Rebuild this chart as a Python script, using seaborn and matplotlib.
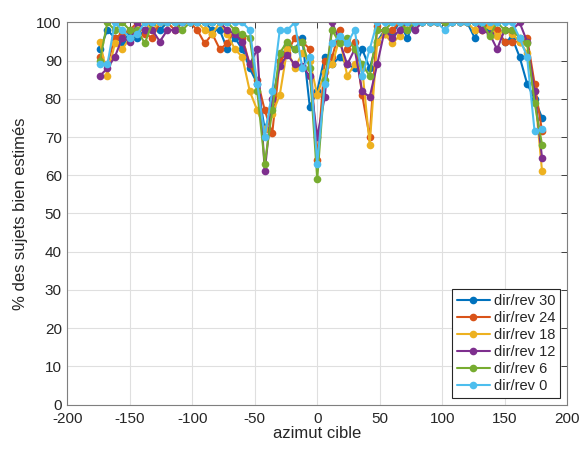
import numpy as np
import pandas as pd
import matplotlib
matplotlib.use("Agg")
import matplotlib.pyplot as plt
import seaborn as sns

# azimuts -174:6:180
azimut = list(range(-174, 181, 6))

dir_rev_30 = [93, 98, 96, 95, 97, 96, 98, 100, 98, 100,
              100, 100, 100, 100, 100, 98, 98, 93, 96, 93,
              88, 84, 72, 78, 90, 94, 93, 96, 78, 82,
              91, 89, 91, 89, 88, 93, 88, 95, 98, 97,
              100, 96, 100, 100, 100, 100, 100, 100, 100, 100,
              96, 100, 98, 98, 95, 96, 91, 84, 80, 75]
dir_rev_24 = [91, 89, 96, 97, 98, 100, 97, 96, 100, 100,
              98, 100, 100, 98, 94.5, 97, 93, 94.5, 98, 96,
              89, 85, 77, 71, 90, 92, 96, 95, 93, 64,
              90, 91, 98, 93, 95, 81, 70, 99, 97, 98,
              100, 100, 100, 100, 100, 100, 100, 100, 100, 100,
              100, 98, 100, 98, 95, 95, 95, 96, 84, 71.5]
dir_rev_18 = [95, 86, 94.5, 93, 96, 98, 100, 98, 100, 100,
              100, 100, 100, 100, 98, 97, 100, 97, 93, 91,
              82, 77, 72, 76, 81, 93, 88, 92, 90, 81,
              87, 89, 96, 86, 89, 88, 68, 95, 97, 94.5,
              96.5, 100, 100, 100, 100, 100, 100, 100, 100, 100,
              98, 98, 99, 96.5, 98, 97, 95, 92, 82, 61]
dir_rev_12 = [86, 88, 91, 96, 95, 100, 98, 98, 95, 98,
              98, 100, 100, 100, 100, 100, 100, 98, 97, 95,
              89, 93, 61, 80, 88.5, 91.5, 89, 88.5, 86, 70,
              80.5, 100, 95, 89, 93, 82, 80.5, 89, 98, 96,
              98, 100, 98, 100, 100, 100, 100, 100, 100, 100,
              100, 98, 97, 93, 98, 98, 100, 95, 82, 64.5]
dir_rev_6 = [90, 100, 98, 100, 98, 98, 94.5, 100, 100, 100,
             100, 98, 100, 100, 100, 100, 100, 100, 98, 97,
             96, 82, 63, 77, 92, 95, 93, 95, 88, 59,
             85, 98, 94.5, 96, 93, 89, 86, 98, 98, 100,
             100, 98, 100, 100, 100, 100, 100, 100, 100, 100,
             100, 100, 96.5, 100, 98, 98, 96, 94.5, 79, 68]
dir_rev_0 = [89, 89, 100, 98, 96, 97, 100, 100, 100, 100,
             100, 100, 100, 100, 100, 100, 100, 100, 100, 100,
             98, 84, 70, 82, 98, 98, 100, 88, 91, 63,
             84, 94.5, 96.5, 94.5, 98, 86, 93, 100, 100, 100,
             100, 100, 100, 100, 100, 100, 98, 100, 100, 100,
             100, 100, 100, 100, 100, 100, 96, 91, 71.5, 72]

labels = ["dir/rev 30", "dir/rev 24", "dir/rev 18", "dir/rev 12", "dir/rev 6", "dir/rev 0"]
series = [dir_rev_30, dir_rev_24, dir_rev_18, dir_rev_12, dir_rev_6, dir_rev_0]
couleurs = ["#0072BD", "#D95319", "#EDB120", "#7E2F8E", "#77AC30", "#4DBEEE"]

df = pd.concat(
    [pd.DataFrame({"azimut": azimut, "pct": s, "cond": lab}) for s, lab in zip(series, labels)],
    ignore_index=True,
)

sns.set_theme(style="whitegrid")
plt.rcParams["font.family"] = ["Liberation Sans", "DejaVu Sans"]
plt.rcParams["axes.unicode_minus"] = False

fig = plt.figure(figsize=(5.81, 4.49), dpi=100)
ax = fig.add_axes([0.116, 0.099, 0.860, 0.851])

sns.lineplot(
    data=df, x="azimut", y="pct", hue="cond", hue_order=labels,
    palette=couleurs, marker="o", markersize=5.5, markeredgewidth=0,
    linewidth=1.5, ax=ax, legend=True, errorbar=None, sort=False,
)

ax.set_xlim(-200, 200)
ax.set_ylim(0, 100)
ax.set_xticks(np.arange(-200, 201, 50))
ax.set_yticks(np.arange(0, 101, 10))
ax.set_xlabel("azimut cible", fontsize=12, color="#262626", labelpad=0)
ax.set_ylabel("% des sujets bien estimés", fontsize=12, color="#262626", labelpad=6)
ax.tick_params(axis="both", labelsize=11, direction="in", length=4, width=0.6,
               colors="#262626", top=True, right=True)
ax.tick_params(axis="x", pad=5.5)
ax.tick_params(axis="y", pad=4)
ax.set_facecolor("white")
ax.grid(True, color="#dfdfdf", linewidth=0.8)
for sp in ax.spines.values():
    sp.set_visible(True)
    sp.set_color("#7f7f7f")
    sp.set_linewidth(0.8)

leg = ax.legend(loc="lower right", fontsize=10.5, frameon=True, fancybox=False,
                edgecolor="#262626", framealpha=1, borderpad=0.35, labelspacing=0.2,
                handlelength=2.2, handletextpad=0.3, borderaxespad=0.45)
leg.get_frame().set_linewidth(0.8)

fig.savefig("out.png", dpi=100, facecolor="white")
